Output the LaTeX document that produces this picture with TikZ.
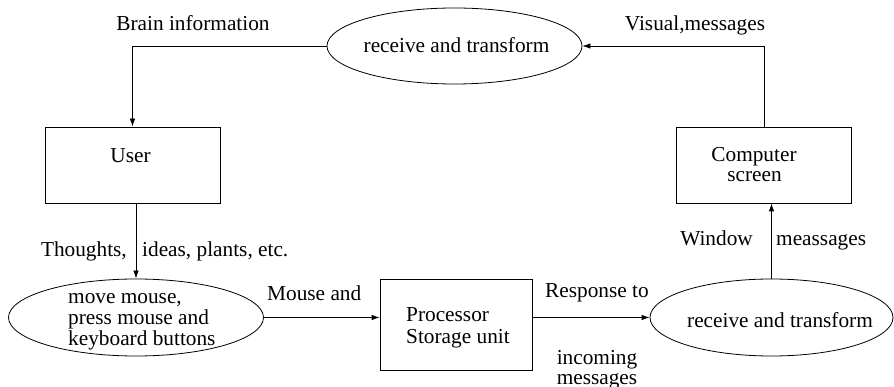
\documentclass[tikz,border=0pt]{standalone}
\usepackage{fontspec}
\setmainfont{Liberation Serif}
\newfontfamily\diagfont{Liberation Serif}
\usetikzlibrary{shapes.geometric,arrows.meta}
\begin{document}
\begin{tikzpicture}[x=1pt,y=-1pt,
  every node/.style={font=\diagfont\fontsize{21.3}{21}\selectfont, inner sep=0pt},
  oval/.style={draw, ellipse, line width=0.8pt},
  boxnode/.style={draw, rectangle, line width=0.8pt},
  conn/.style={line width=0.8pt, -{Latex[length=8pt,width=5.5pt]}},
  lbl/.style={anchor=base}]
\useasboundingbox (0,0) rectangle (894,387);
% shapes
\node[oval, minimum width=255pt, minimum height=76pt] (te) at (454.5,46) {};
\node[boxnode, minimum width=175pt, minimum height=76pt] (user) at (132.5,165) {};
\node[boxnode, minimum width=175pt, minimum height=76pt] (cs) at (764,165) {};
\node[oval, minimum width=255pt, minimum height=77pt] (e1) at (136,317.5) {};
\node[boxnode, minimum width=152pt, minimum height=91pt] (proc) at (456,324.5) {};
\node[oval, minimum width=243pt, minimum height=77pt] (e2) at (771.5,317.5) {};
% texts
\node[lbl] (tTe) at (456.5,53) {receive and transform};
\node[lbl] (tUser) at (130.5,163) {User};
\node[lbl] (tCs1) at (754,162) {Computer};
\node[lbl] (tCs2) at (754.5,182) {screen};
\node[anchor=base west] (tE1a) at (68,303) {move mouse,};
\node[anchor=base west] (tE1b) at (68,324) {press mouse and};
\node[anchor=base west] (tE1c) at (68,345) {keyboard buttons};
\node[anchor=base west] (tP1) at (406,322) {Processor};
\node[anchor=base west] (tP2) at (406,343) {Storage unit};
\node[lbl] (tE2) at (780,327) {receive and transform};
% labels
\node[lbl] (lBrain) at (193,31) {Brain information};
\node[lbl] (lVis) at (695,31) {Visual,messages};
\node[anchor=base east] (lTh) at (127,257) {Thoughts,};
\node[anchor=base west] (lId) at (142,257) {ideas, plants, etc.};
\node[anchor=base west] (lMouse) at (267,301) {Mouse and};
\node[anchor=base west] (lResp) at (545,298) {Response to};
\node[lbl] (lInc1) at (597,364) {incoming};
\node[lbl] (lInc2) at (597,384) {messages};
\node[anchor=base east] (lWin) at (753,246) {Window};
\node[anchor=base west] (lMea) at (776,246) {meassages};
% connectors
\draw[conn] (te.west) -| (user.north);
\draw[conn] (cs.north) |- (te.east);
\draw[conn] (e1.north |- user.south) -- (e1.north);
\draw[conn] (e1.east) -- (e1.east -| proc.west);
\draw[conn] (e2.west -| proc.east) -- (e2.west);
\draw[conn] (e2.north) -- (e2.north |- cs.south);
\end{tikzpicture}
\end{document}
